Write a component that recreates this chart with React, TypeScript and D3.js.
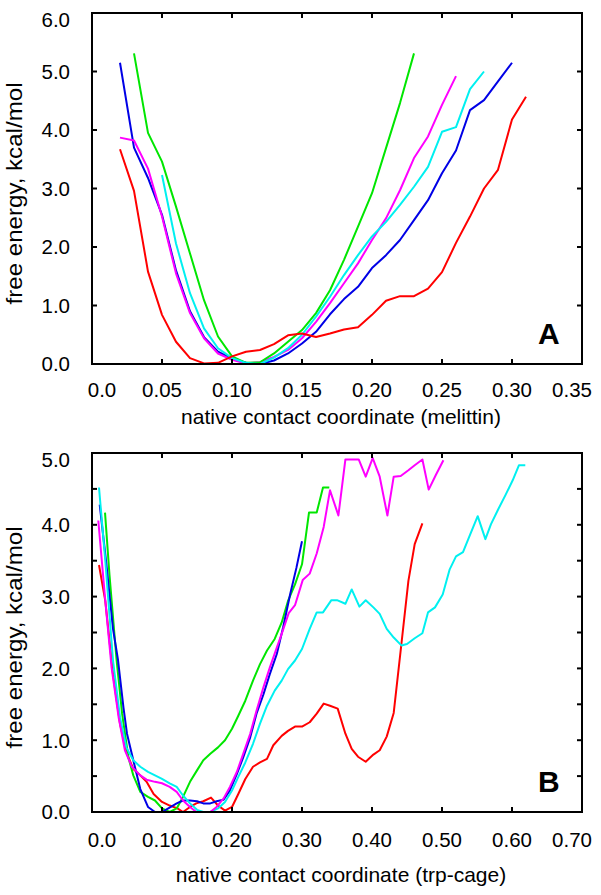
import React from "react";
import * as d3 from "d3";

// ---------- Panel A (melittin) ----------
const aRed: [number, number][] = [[0.02,3.67],[0.03,2.96],[0.04,1.58],[0.05,0.84],[0.06,0.38],[0.07,0.10],[0.08,0.01],[0.09,0.02],[0.10,0.13],[0.11,0.21],[0.12,0.24],[0.13,0.34],[0.14,0.49],[0.15,0.52],[0.16,0.46],[0.17,0.52],[0.18,0.59],[0.19,0.63],[0.20,0.84],[0.21,1.08],[0.22,1.16],[0.23,1.16],[0.24,1.29],[0.25,1.57],[0.26,2.07],[0.27,2.52],[0.28,3.0],[0.29,3.32],[0.30,4.18],[0.31,4.57]];
const aBlue: [number, number][] = [[0.02,5.15],[0.03,3.70],[0.04,3.18],[0.05,2.55],[0.06,1.60],[0.07,0.90],[0.08,0.46],[0.09,0.21],[0.10,0.09],[0.11,0.02],[0.12,0.0],[0.13,0.06],[0.14,0.18],[0.15,0.35],[0.16,0.55],[0.17,0.85],[0.18,1.11],[0.19,1.32],[0.20,1.64],[0.21,1.86],[0.22,2.12],[0.23,2.46],[0.24,2.80],[0.25,3.26],[0.26,3.65],[0.27,4.34],[0.28,4.51],[0.29,4.83],[0.30,5.15]];
const aGreen: [number, number][] = [[0.03,5.31],[0.04,3.95],[0.05,3.46],[0.06,2.69],[0.07,1.89],[0.08,1.09],[0.09,0.47],[0.10,0.13],[0.11,0.02],[0.12,0.03],[0.13,0.18],[0.14,0.38],[0.15,0.58],[0.16,0.87],[0.17,1.26],[0.18,1.78],[0.19,2.35],[0.20,2.92],[0.21,3.69],[0.22,4.46],[0.23,5.31]];
const aMagenta: [number, number][] = [[0.02,3.87],[0.03,3.82],[0.04,3.34],[0.05,2.52],[0.06,1.55],[0.07,0.87],[0.08,0.44],[0.09,0.18],[0.10,0.07],[0.11,0.01],[0.12,0.03],[0.13,0.12],[0.14,0.24],[0.15,0.44],[0.16,0.72],[0.17,1.04],[0.18,1.38],[0.19,1.72],[0.20,2.12],[0.21,2.49],[0.22,2.97],[0.23,3.52],[0.24,3.89],[0.25,4.43],[0.26,4.92]];
const aCyan: [number, number][] = [[0.05,3.23],[0.06,2.06],[0.07,1.21],[0.08,0.61],[0.09,0.27],[0.10,0.10],[0.11,0.02],[0.12,0.0],[0.13,0.11],[0.14,0.27],[0.15,0.50],[0.16,0.81],[0.17,1.15],[0.18,1.52],[0.19,1.86],[0.20,2.18],[0.21,2.43],[0.22,2.72],[0.23,3.03],[0.24,3.37],[0.25,3.97],[0.26,4.05],[0.27,4.70],[0.28,5.0]];

const aXTicks = [0, 0.05, 0.10, 0.15, 0.20, 0.25, 0.30, 0.35];
const aXLabels = ["0.0", "0.05", "0.10", "0.15", "0.20", "0.25", "0.30", "0.35"];
const aYTicks = [0, 1, 2, 3, 4, 5, 6];
const aYLabels = ["0.0", "1.0", "2.0", "3.0", "4.0", "5.0", "6.0"];

// ---------- Panel B (trp-cage) ----------
const bRed: [number, number][] = [[0.01,3.44],[0.019,2.94],[0.03,1.92],[0.04,1.23],[0.05,0.81],[0.059,0.60],[0.069,0.51],[0.078,0.42],[0.088,0.25],[0.10,0.14],[0.111,0.09],[0.122,0.05],[0.13,0.0],[0.14,0.07],[0.149,0.12],[0.159,0.15],[0.17,0.20],[0.18,0.09],[0.19,0.02],[0.20,0.07],[0.209,0.25],[0.219,0.46],[0.23,0.63],[0.24,0.69],[0.25,0.74],[0.259,0.93],[0.271,1.06],[0.28,1.13],[0.29,1.19],[0.30,1.19],[0.311,1.25],[0.321,1.37],[0.331,1.51],[0.34,1.48],[0.351,1.44],[0.362,1.09],[0.371,0.88],[0.38,0.77],[0.391,0.70],[0.402,0.80],[0.411,0.86],[0.421,1.05],[0.431,1.38],[0.442,2.34],[0.452,3.22],[0.461,3.73],[0.472,4.02]];
const bBlue: [number, number][] = [[0.011,4.28],[0.02,3.5],[0.03,2.55],[0.037,2.13],[0.045,1.45],[0.05,1.09],[0.059,0.72],[0.069,0.32],[0.08,0.07],[0.09,0.0],[0.10,0.0],[0.109,0.05],[0.121,0.12],[0.13,0.16],[0.14,0.16],[0.15,0.15],[0.159,0.12],[0.169,0.12],[0.178,0.15],[0.188,0.17],[0.197,0.30],[0.207,0.53],[0.216,0.76],[0.226,1.04],[0.235,1.37],[0.245,1.64],[0.254,1.92],[0.264,2.20],[0.273,2.57],[0.283,3.03],[0.292,3.40],[0.30,3.77]];
const bGreen: [number, number][] = [[0.0186,4.17],[0.025,3.3],[0.035,2.13],[0.043,1.37],[0.052,0.76],[0.059,0.51],[0.069,0.28],[0.08,0.21],[0.09,0.16],[0.10,0.05],[0.111,0.0],[0.121,0.05],[0.13,0.21],[0.14,0.42],[0.15,0.58],[0.159,0.72],[0.169,0.81],[0.18,0.90],[0.19,1.0],[0.20,1.16],[0.209,1.34],[0.219,1.55],[0.23,1.83],[0.24,2.06],[0.25,2.25],[0.261,2.41],[0.271,2.64],[0.28,2.94],[0.29,3.17],[0.30,3.45],[0.31,4.17],[0.321,4.17],[0.33,4.52],[0.339,4.52]];
const bMagenta: [number, number][] = [[0.009,4.06],[0.019,2.94],[0.028,2.01],[0.038,1.32],[0.047,0.86],[0.057,0.63],[0.069,0.51],[0.078,0.45],[0.09,0.42],[0.10,0.40],[0.111,0.35],[0.121,0.28],[0.13,0.16],[0.14,0.07],[0.149,0.0],[0.159,0.0],[0.169,0.0],[0.178,0.07],[0.188,0.19],[0.197,0.35],[0.207,0.56],[0.216,0.81],[0.226,1.09],[0.235,1.41],[0.245,1.74],[0.254,2.01],[0.264,2.29],[0.271,2.48],[0.281,2.77],[0.29,2.88],[0.301,3.23],[0.311,3.32],[0.321,3.60],[0.331,3.97],[0.34,4.48],[0.352,4.13],[0.362,4.91],[0.371,4.91],[0.381,4.91],[0.391,4.67],[0.401,4.93],[0.411,4.67],[0.422,4.13],[0.431,4.67],[0.441,4.68],[0.452,4.76],[0.461,4.83],[0.472,4.91],[0.481,4.49],[0.491,4.69],[0.502,4.90]];
const bCyan: [number, number][] = [[0.01,4.52],[0.019,3.50],[0.03,2.11],[0.04,1.32],[0.049,0.90],[0.059,0.72],[0.069,0.63],[0.08,0.56],[0.09,0.51],[0.10,0.46],[0.111,0.40],[0.121,0.35],[0.13,0.23],[0.14,0.12],[0.15,0.03],[0.159,0.0],[0.169,0.0],[0.18,0.05],[0.19,0.14],[0.20,0.30],[0.209,0.49],[0.219,0.69],[0.23,0.95],[0.24,1.23],[0.25,1.48],[0.261,1.69],[0.271,1.83],[0.28,1.99],[0.29,2.11],[0.30,2.27],[0.311,2.55],[0.321,2.78],[0.33,2.78],[0.342,2.95],[0.35,2.95],[0.362,2.90],[0.371,3.10],[0.382,2.86],[0.391,2.95],[0.402,2.85],[0.411,2.76],[0.421,2.55],[0.431,2.43],[0.442,2.32],[0.45,2.34],[0.461,2.42],[0.472,2.49],[0.48,2.78],[0.49,2.85],[0.501,3.03],[0.511,3.38],[0.52,3.56],[0.53,3.62],[0.54,3.86],[0.551,4.12],[0.562,3.80],[0.57,4.01],[0.58,4.21],[0.591,4.42],[0.601,4.62],[0.61,4.83],[0.619,4.83]];

const bXTicks = [0, 0.1, 0.2, 0.3, 0.4, 0.5, 0.6, 0.7];
const bXLabels = ["0.0", "0.10", "0.20", "0.30", "0.40", "0.50", "0.60", "0.70"];
const bYTicks = [0, 0.5, 1, 1.5, 2, 2.5, 3, 3.5, 4, 4.5, 5];
const bYLabels = ["0.0", "", "1.0", "", "2.0", "", "3.0", "", "4.0", "", "5.0"];

const RED = "#ff0000";
const BLUE = "#0000e6";
const GREEN = "#00e600";
const MAGENTA = "#ff00ff";
const CYAN = "#00f0f0";

const FONT = "'Liberation Sans', Arial, Helvetica, sans-serif";

type PanelProps = {
  top: number;
  bottom: number;
  xDomain: [number, number];
  yDomain: [number, number];
  xTicks: number[];
  xLabels: string[];
  yTicks: number[];
  yLabels: string[];
  series: { data: [number, number][]; color: string }[];
  xTitle: string;
  letter: string;
  xLabelOffset: number;
  xTitleOffset: number;
};

const LEFT = 92;
const RIGHT = 582;
const TICK = 5;

function Panel(p: PanelProps) {
  const x = d3.scaleLinear().domain(p.xDomain).range([LEFT, RIGHT]);
  const y = d3.scaleLinear().domain(p.yDomain).range([p.bottom, p.top]);
  const line = d3
    .line<[number, number]>()
    .x((d) => x(d[0]))
    .y((d) => y(d[1]));
  const midY = (p.top + p.bottom) / 2;
  const nX = p.xTicks.length;
  return (
    <g>
      {p.series.map((s, i) => (
        <path
          key={i}
          d={line(s.data) || ""}
          fill="none"
          stroke={s.color}
          strokeWidth={2}
          strokeLinejoin="round"
        />
      ))}
      <rect
        x={LEFT}
        y={p.top}
        width={RIGHT - LEFT}
        height={p.bottom - p.top}
        fill="none"
        stroke="#000"
        strokeWidth={2}
      />
      {p.xTicks.map((t, i) => (
        <g key={"xt" + i}>
          <line x1={x(t)} x2={x(t)} y1={p.bottom} y2={p.bottom - TICK} stroke="#000" strokeWidth={2} />
          <line x1={x(t)} x2={x(t)} y1={p.top} y2={p.top + TICK} stroke="#000" strokeWidth={2} />
          <text
            x={x(t) + (i === 0 ? 10 : i === nX - 1 ? -10 : 0)}
            y={p.bottom + p.xLabelOffset}
            textAnchor="middle"
            fontFamily={FONT}
            fontSize={20.5}
            fill="#000"
          >
            {p.xLabels[i]}
          </text>
        </g>
      ))}
      {p.yTicks.map((t, i) => (
        <g key={"yt" + i}>
          <line x1={LEFT} x2={LEFT + TICK} y1={y(t)} y2={y(t)} stroke="#000" strokeWidth={2} />
          <line x1={RIGHT} x2={RIGHT - TICK} y1={y(t)} y2={y(t)} stroke="#000" strokeWidth={2} />
          {p.yLabels[i] ? (
            <text
              x={70}
              y={Math.max(y(t), p.top + 7) + 7.3}
              textAnchor="end"
              fontFamily={FONT}
              fontSize={20.5}
              fill="#000"
            >
              {p.yLabels[i]}
            </text>
          ) : null}
        </g>
      ))}
      <text
        x={(LEFT + RIGHT) / 2 + 4}
        y={p.bottom + p.xTitleOffset}
        textAnchor="middle"
        fontFamily={FONT}
        fontSize={21}
        fill="#000"
      >
        {p.xTitle}
      </text>
      <text
        transform={`translate(22, ${midY + 5}) rotate(-90)`}
        textAnchor="middle"
        fontFamily={FONT}
        fontSize={21.5}
        textLength={222}
        lengthAdjust="spacingAndGlyphs"
        fill="#000"
      >
        free energy, kcal/mol
      </text>
      <text
        x={538}
        y={p.bottom - 20}
        fontFamily={FONT}
        fontSize={30}
        fontWeight="bold"
        fill="#000"
      >
        {p.letter}
      </text>
    </g>
  );
}

export default function App() {
  return (
    <svg
      width={601}
      height={895}
      viewBox="0 0 601 895"
      style={{ position: "absolute", left: 0, top: 0, background: "#fff" }}
    >
      <rect x={0} y={0} width={601} height={895} fill="#fff" />
      <Panel
        top={13}
        bottom={364}
        xDomain={[0, 0.35]}
        yDomain={[0, 6]}
        xTicks={aXTicks}
        xLabels={aXLabels}
        yTicks={aYTicks}
        yLabels={aYLabels}
        series={[
          { data: aBlue, color: BLUE },
          { data: aMagenta, color: MAGENTA },
          { data: aGreen, color: GREEN },
          { data: aCyan, color: CYAN },
          { data: aRed, color: RED },
        ]}
        xTitle="native contact coordinate (melittin)"
        letter="A"
        xLabelOffset={32.5}
        xTitleOffset={60}
      />
      <Panel
        top={453}
        bottom={812}
        xDomain={[0, 0.7]}
        yDomain={[0, 5]}
        xTicks={bXTicks}
        xLabels={bXLabels}
        yTicks={bYTicks}
        yLabels={bYLabels}
        series={[
          { data: bRed, color: RED },
          { data: bGreen, color: GREEN },
          { data: bBlue, color: BLUE },
          { data: bCyan, color: CYAN },
          { data: bMagenta, color: MAGENTA },
        ]}
        xTitle="native contact coordinate (trp-cage)"
        letter="B"
        xLabelOffset={34.5}
        xTitleOffset={70}
      />
    </svg>
  );
}
